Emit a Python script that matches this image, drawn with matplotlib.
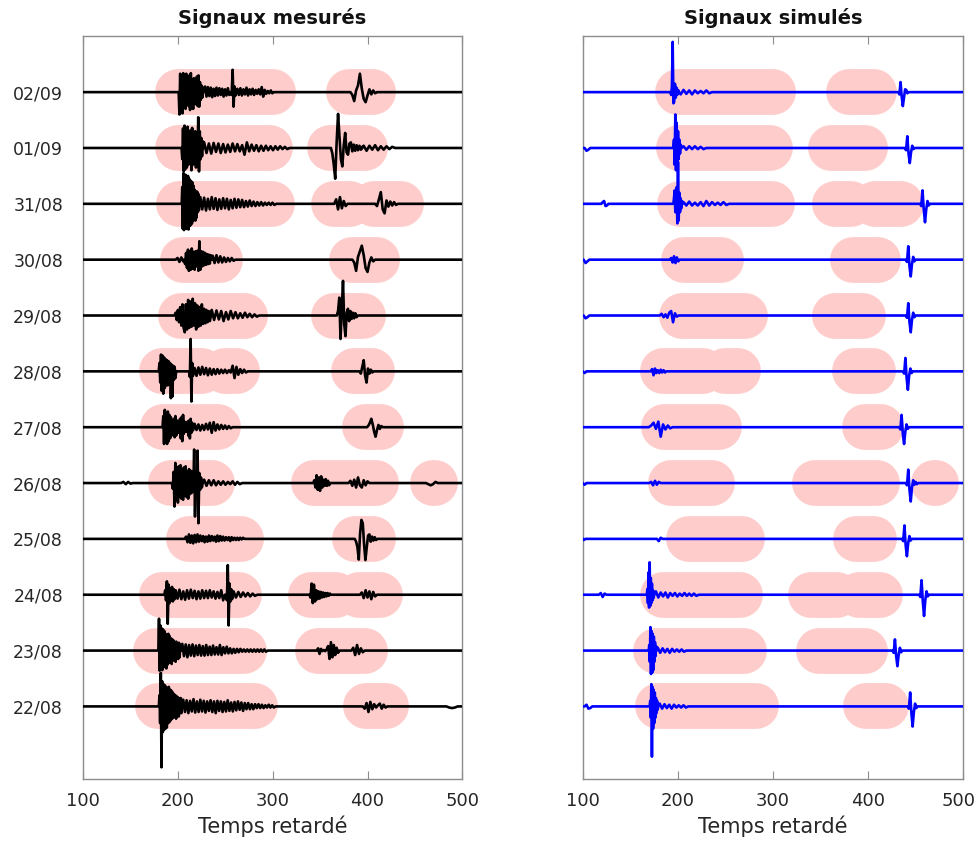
import matplotlib
matplotlib.use("Agg")
import matplotlib.pyplot as plt
from matplotlib.transforms import ScaledTranslation

# dates, bottom (position 1) to top (position 12)
dates = ["22/08", "23/08", "24/08", "25/08", "26/08", "27/08",
         "28/08", "29/08", "30/08", "31/08", "01/09", "02/09"]

# analysis windows (time start, time end) for each date
windows = [
    [(179, 282), (398, 419)],                      # 22/08
    [(177, 270), (348, 397)],                      # 23/08
    [(184, 265), (340, 367), (391, 413)],          # 24/08
    [(212, 267), (387, 406)],                      # 25/08
    [(193, 236), (344, 409), (469, 471)],          # 26/08
    [(185, 243), (397, 414)],                      # 27/08
    [(184, 226), (250, 263), (386, 405)],          # 28/08
    [(204, 271), (365, 395)],                      # 29/08
    [(206, 245), (384, 410)],                      # 30/08
    [(202, 299), (365, 382), (407, 435)],          # 31/08
    [(201, 297), (361, 397)],                      # 01/09
    [(200, 300), (380, 406)],                      # 02/09
]

# wave packets: (start time, step, peak values in % of trace spacing)
measured = [
    # 22/08
    [(181, 0.7, [20, -30, 60, -109, 45, -46, 40, -42, 38, -40, 35, -38, 32, -30, 35, -28, 30,
                 -25, 28, -22, 25, -20, 22, -18, 20, -22, 18, -15, 16, -18, 14, -12, 15, -12]),
     (206, 1.8, [12, -10, 11, -12, 10, -9, 13, -11, 9, -10, 12, -9, 10, -11, 9, -8, 11, -10,
                 9, -12, 10, -8, 9, -10, 8, -9, 11, -8, 7, -9, 8, -7, 9, -6, 7, -8, 6, -5,
                 6, -5, 4, -5, 4, -3, 4, -3, 3, -3, 2, -2, 3, -2, 2, -2]),
     (397, 2, [-4, 6, -10, 8, -5, 4, -2, 2, 5, -4, 3, -2]),
     (486, 3, [-2, -3, -2])],
    # 23/08
    [(180.5, 0.7, [57, -36, 45, -30, 40, -35, 38, -30, 35, -28, 30, -32, 28, -25, 30, -22, 26,
                   -20, 22, -24, 20, -18, 18, -16, 15, -20, 16, -14, 12, -15, 14, -12, 10]),
     (205, 1.8, [12, -10, 11, -12, 10, -9, 11, -10, 9, -8, 10, -9, 8, -9, 10, -8, 7, -8, 9,
                 -7, 6, -7, 10, -8, 6, -5, 7, -5, 4, -5, 3, -4, 3, -3, 3, -2, 2, -2, 2, -2,
                 2, -2, 2, -2, 2, -2, 2, -2, 2, -2]),
     (348, 1.5, [4, -6, 3, -1, 1, -1, 2, 8, -15, 15, -12, 10, -8, 5, -4]),
     (385, 2, [5, -8, 10, -6, 4, -3])],
    # 24/08
    [(187, 0.9, [8, -10, 24, -52, 18, -15, 12, -10, 14, -12, 10, -8]),
     (198, 2, [8, -7, 9, -8, 6, -9, 8, -7, 9, -6, 7, -8, 6, -7, 8, -6, 7, -6, 8, -5, 6, -7,
               5, -6, 8, -10]),
     (252, 0.9, [-10, 53, -55, 20, -12, 10, -8]),
     (259, 2.5, [6, -5, 5, -4, 4, -3, 3, -3, 2, -2]),
     (340, 1.2, [-5, 20, -15, 18, -12, 8, -8, 6, -7, 5, -5, 4, -4, 3, -3, 3, -2, 2]),
     (394, 2, [4, -6, 8, -5, 6, -8, 5, -3])],
    # 25/08
    [(209, 1.5, [4, -6, 8, -7, 6, -8, 7, -6, 8, -5, 6, -4, 5, -6, 4, -5, 6, -4, 5, -3, 4, -5,
                 6, -4, 5, -3, 4, -3, 3, -2, 3, -4, 3, -2, 2, -2, 2, -2, 2, -1, 2]),
     (388, 1.4, [-5, -15, -37, 10, 34, 28, -10, -38, -15, 6, 8, -5, 4, -3, 3, -2])],
    # 26/08
    [(143, 2.5, [2, -2, 2, -1]),
     (195, 0.9, [-10, 20, -42, 36, -30, 28, -35, 30, -25, 32, -28, 25, -30, 28, -22, 30, -25,
                 20, -28, 25, -20, 22, -18, 20, -15, 60, -60, 20, -15, 58, -72, 18, -12, 10, -8]),
     (228, 2.5, [6, -5, 5, -4, 5, -4, 3, -3, 3, -3, 2, -2, 3, -3, 2, -2]),
     (344, 1.2, [5, -8, 14, -12, 10, -14, 12, -8, 6, -5, 7, -5, 4, -4]),
     (382, 2, [4, -5, 6, -8, 10, -4, -8, 5, -4, 3]),
     (464, 2.5, [-2, -4, -2, 2])],
    # 27/08
    [(185, 0.8, [20, -30, 31, -28, 25, -30, 28, -25, 22, -20, 18, -15, 12, -10, 15, -18, 20,
                 -15, 12, -10, 8, -10, 15, -20, 18, -25, 22, -12, 10, -8, 6, -8, 10, -15, 12,
                 -20, 15, -10, 8, -6]),
     (218, 2, [6, -5, 5, -6, 4, -5, 6, -4, 8, -10, 9, -6, 5, -4, 4, -3, 3, -3, 2, -2]),
     (401, 1.5, [3, 8, 15, 5, -8, -17, -5, 4, -3, 2])],
    # 28/08
    [(181, 0.8, [15, -20, 30, -35, 28, -40, 25, -30, 22, -25, 20, -25, 18, -22, 15, -48, 12,
                 -45, 10, -15, 8, -12]),
     (213, 0.8, [-10, 58, -54, 15, -8]),
     (218, 2, [6, -8, 7, -6, 8, -5, 6, -7, 5, -6, 4, -5, 4, -4, 3, -3, 3, -3, 2, -2, 10, -12,
               8, -6, 4, -3, 3, -2]),
     (393, 1.5, [-4, 8, 20, -8, -20, 5, -4, 3, -2])],
    # 29/08
    [(198, 1.2, [5, -8, 10, -12, 15, -18, 20, -22, -30, 20, -25, 28, -22, 25, -20, 30, -18,
                 22, -25, 18, -20, 15, -18, 20, -15, 12, -14, 10, -12, 8, -10]),
     (236, 2.5, [10, -8, 9, -7, 8, -10, 6, -7, 8, -5, 6, -5, 4, -4, 5, -3, 3, -3, 2, -2]),
     (369, 1.3, [8, 32, -42, 10, 62, -15, -37, 5, 12, -10, 8, -6, 5, -5, 4, -3])],
    # 30/08
    [(200, 2, [3, -4, 4, -3]),
     (208, 1.0, [-8, 12, -15, 18, -20, 15, -18, 20, -16, 14, -18, 15, -12, 16, -20, 33, -18,
                 15, -12, 14, -10, 12, -9, 10, -8, 9, -7, 8]),
     (237, 2, [7, -6, 8, -5, 6, -5, 4, -4, 3, -3, 3, -2]),
     (386, 2, [-5, -20, 5, 15, 25, 8, -15, -22, -5, 4, -3])],
    # 31/08
    [(205, 0.6, [30, -45, 55, -47, 50, -40, 52, -45, 48, -42, 50, -46, 45, -40, 42, -38, 40,
                 -35, 38, -30, 32, -28, 25, -30, 20, -25, 22, -15, 18, -12]),
     (224, 2, [12, -10, 11, -12, 9, -10, 12, -9, 10, -11, 8, -9, 10, -8, 9, -10, 7, -8, 9,
               -7, 8, -6, 7, -6, 5, -5, 6, -4, 4, -4, 3, -3, 3, -3, 2, -2, 2, -2, 2, -2]),
     (367, 2, [8, -10, 12, -8, 5, -4]),
     (410, 2, [-4, 8, 21, -10, -17, 6, -5, 4, -3, 3, -2])],
    # 01/09
    [(205, 0.8, [-20, 35, -42, 40, -38, 30, -35, 38, -30, 25, -28, 32, -40, 36, -30, 25, -22,
                 30, -35, 28, -32, 55, -42, 30, -20, 18, -15, 12]),
     (228, 2.5, [10, -9, 8, -10, 9, -7, 8, -9, 7, -8, 6, -7, 8, -6, 7, -6, 5, -12, 10, -6, 6,
                 -5, 5, -6, 4, -5, 4, -4, 3, -4, 3, -3, 3, -2, 2, -2]),
     (363, 1.5, [-10, -30, -55, 10, 61, 20, -20, -33, 5, 27, -8, -12, 8, 10, -6, 6, -5, 5,
                 -4, 4, -3]),
     (396, 3, [4, -5, 4, -3, 5, -4, 3, -3, 3, -2, 2])],
    # 02/09
    [(202, 0.8, [-40, 33, -35, 30, -38, 34, -20, 28, -30, 33, -15, 20, -25, 30, -32, 34, -28,
                 22, -30, 25, -18, 20, -22, 28, -25, 30, -26, 18, -14, 12, -10, 8]),
     (229, 1.5, [10, -8, 9, -7, 8, -9, 6, -7, 8, -6, 7, -5, 6, -8, 5, -6, 7, -5]),
     (257, 1.0, [-5, 40, -26, 10, -6]),
     (263, 1.6, [6, -5, 7, -6, 5, -4, 8, -6, 5, -4, 6, -5, 4, -3, 5, -4, 9, -8, 4, -3, 2, -2,
                 3, -2]),
     (384, 2, [-5, -16, 3, 12, 33, 6, -12, -18, -6, 5, -4, 3, -2])],
]

simulated = [
    # 22/08
    [(104, 2, [3, -4, -3]),
     (171, 0.6, [10, -20, 40, -90, 35, -40, 30, -30, 25, -20, 15, -12, 10, -6]),
     (181, 2.5, [5, -4, 4, -3, 3, -4, 3, -2, 2, -2, 2, -2]),
     (443, 1.3, [-4, 25, -12, -36, -10, 5, -3])],
    # 23/08
    [(170, 0.6, [10, -20, 42, -42, 35, -40, 30, -35, 25, -20, 15, -10, 8]),
     (179, 2.5, [5, -4, 4, -3, 3, -4, 3, -2, 2, -2, 2, -2]),
     (427, 1.3, [-4, 20, -10, -28, -8, 5, -3])],
    # 24/08
    [(119, 2, [3, -4, 2]),
     (168, 0.6, [10, -15, 40, -23, 58, -20, 30, -15, 20, -10, 8, -6]),
     (177, 2.5, [6, -5, 4, -3, 4, -5, 3, -2, 3, -3, 2, -2, 3, -2, 2, -2, 2, -2]),
     (455, 1.3, [-4, 26, -12, -38, -10, 6, -3])],
    # 25/08
    [(101, 2, [-2]),
     (180, 2, [-4, 2]),
     (437, 1.3, [-4, 24, -12, -31, -8, 5, -3])],
    # 26/08
    [(102, 2, [-3]),
     (172, 2, [2, -4, 4, -3, 2]),
     (441, 1.3, [-4, 24, -12, -33, -8, 5, -3, 2, -2])],
    # 27/08
    [(172, 2.5, [3, 8, -3, 10, -17, 5, -4, 3, -2]),
     (434, 1.3, [-4, 22, -12, -30, -8, 5, -3])],
    # 28/08
    [(102, 2, [-3]),
     (173, 1.5, [4, -7, 5, -3, 2, -3, 3, -2, 2, -2]),
     (438, 1.3, [-4, 24, -12, -33, -8, 5, -3])],
    # 29/08
    [(103, 2, [-5, -3]),
     (183, 2, [3, -3, 2, -4, 5, 8, -12, 4, -2]),
     (441, 1.3, [-4, 22, -12, -30, -8, 5, -3])],
    # 30/08
    [(103, 2, [-6, -3]),
     (193, 1.5, [3, -5, 6, -6, 4, -3]),
     (441, 1.3, [-4, 24, -12, -30, -8, 5, -3])],
    # 31/08
    [(121, 1.5, [3, 5, -4, -3]),
     (196, 0.7, [10, 24, -15, -10, 30, -35, 75, -30, 20, -15, 10, -8, 5]),
     (206, 3, [3, -3, 4, -3, 2, -3, 3, -4, 5, -3, 3, -2, 2, -2, 3, -2]),
     (456, 1.3, [-4, 24, -10, -33, -10, 5, -3])],
    # 01/09
    [(104, 2, [-5, -3]),
     (196, 0.7, [15, -30, 60, -40, 45, -37, 30, -20, 15, -10, 6]),
     (206, 3, [3, -3, 3, -2, 3, -2, 2, -2]),
     (440, 1.3, [-4, 21, -10, -27, -8, 4, -2])],
    # 02/09
    [(193, 0.8, [-5, 10, 90, -20, -17, 15, -10, 8, -5, 4]),
     (200, 3, [3, -4, 4, -3, 3, -4, 3, -2, 2, -2, 3, -2]),
     (433, 1.2, [-4, 18, -8, -25, -10, 5, 4, -2])],
]


def build_trace(packets):
    t, y = [100.0], [0.0]
    for t0, dt, amps in packets:
        t.append(t0 - dt)
        y.append(0.0)
        for k, a in enumerate(amps):
            t.append(t0 + k * dt)
            y.append(a / 100.0)
        t.append(t0 + len(amps) * dt)
        y.append(0.0)
    t.append(500.0)
    y.append(0.0)
    return t, y


fig = plt.figure(figsize=(9.78, 8.44), dpi=100)
ax1 = fig.add_axes([0.0844, 0.077, 0.3885, 0.880])
ax2 = fig.add_axes([0.5958, 0.077, 0.3890, 0.880])

pink = "#ffcccc"
spine_col = "#8c8c8c"
text_col = "#262626"

for ax, traces, col, title in [(ax1, measured, "black", "Signaux mesurés"),
                               (ax2, simulated, "blue", "Signaux simulés")]:
    for i in range(len(dates)):
        pos = i + 1
        for a, b in windows[i]:
            ax.plot([a, b], [pos, pos], color=pink, lw=33, solid_capstyle="round", zorder=1)
        t, y = build_trace(traces[i])
        ax.plot(t, [pos + v for v in y], color=col, lw=1.9, zorder=3)
    ax.set_xlim(100, 500)
    ax.set_ylim(-0.3, 13)
    ax.set_xticks([100, 200, 300, 400, 500])
    ax.set_yticks(range(1, len(dates) + 1))
    ax.tick_params(axis="x", direction="in", length=6, width=0.8, color=spine_col,
                   top=True, labelsize=13, pad=9, labelcolor=text_col)
    ax.tick_params(axis="y", length=0, labelsize=12.5, pad=14, labelcolor=text_col)
    for s in ax.spines.values():
        s.set_color(spine_col)
        s.set_linewidth(1.0)
    ax.set_xlabel("Temps retardé", fontsize=15, labelpad=4, color=text_col)
    ax.set_title(title, fontsize=14, fontweight="bold", pad=9, color="#111111")

ax1.set_yticklabels(dates)
ax2.set_yticklabels([])

# keep the last tick label of the right panel inside the figure
fig.canvas.draw()
last = ax2.get_xticklabels()[-1]
last.set_transform(last.get_transform() + ScaledTranslation(-5 / 100, 0, fig.dpi_scale_trans))

fig.savefig("out.png", dpi=100)
